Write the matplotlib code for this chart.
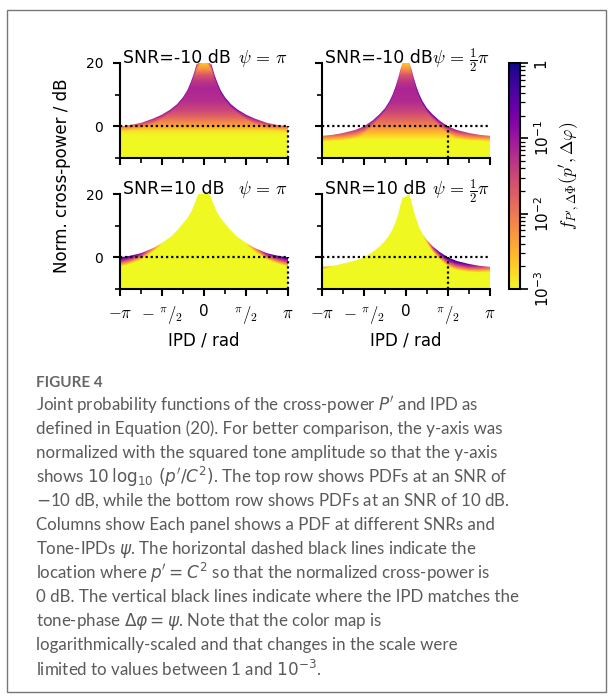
import numpy as np
import matplotlib
matplotlib.use("Agg")
import matplotlib.pyplot as plt
from matplotlib.colors import LogNorm
from matplotlib.patches import Polygon, Rectangle
from matplotlib.ticker import FixedLocator

plt.rcParams['mathtext.fontset'] = 'cm'
plt.rcParams['font.family'] = 'DejaVu Sans'

ipd_nodes = [-1, -0.88, -0.75, -0.6, -0.5, -0.4, -0.32, -0.25, -0.2, -0.16, -0.125, -0.09, -0.066, -0.04,
             0, 0.04, 0.066, 0.09, 0.125, 0.16, 0.2, 0.25, 0.32, 0.4, 0.5, 0.6, 0.75, 0.88, 1]

# upper edge of the PDF support, normalized cross-power in dB
env_tl = [0, 0.4, 1.1, 2.5, 3.7, 5.3, 7.0, 9.2, 11.3, 13.8, 16.3, 19.5, 20, 20,
          20, 20, 20, 19.5, 16.3, 13.8, 11.3, 9.2, 7.0, 5.3, 3.7, 2.5, 1.1, 0.4, 0]
env_tr = [-3.0, -2.7, -2.1, -1.1, 0, 1.8, 3.7, 5.7, 7.8, 10, 12.5, 15.5, 18, 20,
          20, 20, 18, 15.5, 12.5, 10, 7.8, 5.7, 3.7, 1.8, 0, -1.1, -2.1, -2.7, -3.0]
env_bl = [0, 0.5, 1.3, 3.0, 4.6, 6.4, 8.5, 10.7, 12.3, 14, 16, 18.5, 20, 20,
          20, 20, 20, 18.5, 16, 14, 12.3, 10.7, 8.5, 6.4, 4.6, 3.0, 1.3, 0.5, 0]
env_br = [-3.0, -2.7, -2.0, -1.0, 0, 1.6, 3.3, 5.2, 7.0, 8.9, 11.0, 13.8, 16.5, 18.8,
          19.3, 20, 17.6, 14.8, 11.9, 9.3, 7.3, 5.4, 3.4, 1.7, 0, -1.1, -2.1, -2.7, -3.0]

# log10 of the density right at the upper edge
edge_tl = [-2.0, -1.7, -1.4, -1.1, -1.0, -0.9, -0.8, -0.75, -0.7, -0.7, -0.8, -1.1, -2.0, -2.5,
           -2.7, -2.5, -1.8, -0.9, -0.5, -0.45, -0.45, -0.5, -0.6, -0.7, -0.8, -1.0, -1.3, -1.6, -1.9]
edge_tr = [-1.9, -1.7, -1.5, -1.3, -1.1, -0.9, -0.8, -0.7, -0.6, -0.55, -0.6, -0.9, -1.6, -2.4,
           -2.7, -2.4, -1.4, -0.6, -0.4, -0.35, -0.4, -0.45, -0.55, -0.7, -0.9, -1.1, -1.4, -1.6, -1.8]
edge_bl = [-0.15, -0.35, -0.7, -2.0, -3, -3, -3, -3, -3, -3, -3, -3, -3, -3,
           -3, -3, -3, -3, -3, -3, -3, -3, -3, -3, -3, -2.0, -0.7, -0.35, -0.15]
edge_br = [-2.0, -3, -3, -3, -3, -3, -3, -3, -3, -3, -3, -3, -3, -3,
           -3, -3, -3, -3, -3, -3, -3, -2.2, -0.9, -0.3, -0.05, -0.2, -0.5, -1.1, -1.7]

# thickness (dB) of the bright band below the edge
depth_top = [2, 2, 2.5, 3, 3, 3, 3, 3, 3, 3, 3, 3, 3, 3,
             3, 3, 3, 3, 3, 3, 3, 3, 3, 3, 3, 3, 2.5, 2, 2]
depth_bl = [3.0, 2.6, 2.1, 1.2, 1, 1, 1, 1, 1, 1, 1, 1, 1, 1,
            1, 1, 1, 1, 1, 1, 1, 1, 1, 1, 1, 1.2, 2.1, 2.6, 3.0]
depth_br = [0.7, 1, 1, 1, 1, 1, 1, 1, 1, 1, 1, 1, 1, 1,
            1, 1, 1, 1, 1, 1, 1, 1.0, 1.8, 2.4, 3.0, 3.0, 2.6, 2.1, 1.8]

# background log10 density as a function of cross-power level
base_db = [-10, -4.5, -3, -1.5, 0, 1.5, 3, 5, 8, 12, 14, 16, 18, 20]
base_tl = [-3, -3, -3, -2.85, -2.4, -2.1, -1.8, -1.5, -1.25, -1.15, -1.3, -1.6, -2.2, -2.7]
base_tr = [-3, -3, -2.75, -2.45, -2.15, -1.9, -1.7, -1.45, -1.2, -1.15, -1.3, -1.6, -2.2, -2.7]
base_bot = [-3, -3, -3, -3, -3, -3, -3, -3, -3, -3, -3, -3, -3, -3]

snr_titles = ["SNR=-10 dB", "SNR=-10 dB", "SNR=10 dB", "SNR=10 dB"]
psi_titles = [r"$\psi\,=\,\pi$", r"$\psi\,=\,\frac{1}{2}\pi$", r"$\psi\,=\,\pi$", r"$\psi\,=\,\frac{1}{2}\pi$"]
psi_values = [np.pi, np.pi / 2, np.pi, np.pi / 2]

ipd_ticklabels = [r"$-\pi$", r"$-\ {}^{\pi}/_{2}$", "0", r"${}^{\pi}/_{2}$", r"$\pi$"]
cbar_ticks = [1e-3, 1e-2, 1e-1, 1]
cbar_ticklabels = [r"$\mathdefault{10^{-3}}$", r"$\mathdefault{10^{-2}}$", r"$\mathdefault{10^{-1}}$", "1"]

caption_lines = [
    r"Joint probability functions of the cross-power $P'$ and IPD as",
    r"defined in Equation (20). For better comparison, the y-axis was",
    r"normalized with the squared tone amplitude so that the y-axis",
    r"shows $10\,\log_{10}\,(p'/C^2)$. The top row shows PDFs at an SNR of",
    r"$-$10 dB, while the bottom row shows PDFs at an SNR of 10 dB.",
    r"Columns show Each panel shows a PDF at different SNRs and",
    r"Tone-IPDs $\psi$. The horizontal dashed black lines indicate the",
    r"location where $p' = C^2$ so that the normalized cross-power is",
    r"0 dB. The vertical black lines indicate where the IPD matches the",
    r"tone-phase $\Delta\varphi = \psi$. Note that the color map is",
    r"logarithmically-scaled and that changes in the scale were",
    r"limited to values between 1 and $10^{-3}$.",
]

W, H = 614, 700
x = np.linspace(-np.pi, np.pi, 700)
y = np.linspace(-10, 20, 500)
Y = y[:, None]
nodes = np.array(ipd_nodes) * np.pi


def density(env, edge, depth, base):
    e = np.interp(x, nodes, env)
    ed = np.interp(x, nodes, edge)[None, :]
    dp = np.interp(x, nodes, depth)[None, :]
    b = np.interp(y, base_db, base)[:, None]
    ramp = ed + (-3 - ed) * np.clip((e[None, :] - Y) / dp, 0, 1)
    return e, 10 ** np.maximum(b, ramp)


def fig_rect(left, top, right, bottom):
    return [left / W, 1 - bottom / H, (right - left) / W, (bottom - top) / H]


fig = plt.figure(figsize=(W / 100, H / 100), dpi=100)

panels = [
    (fig_rect(120, 63, 288, 158), env_tl, edge_tl, depth_top, base_tl),
    (fig_rect(322, 63, 490, 158), env_tr, edge_tr, depth_top, base_tr),
    (fig_rect(120, 194, 288, 289), env_bl, edge_bl, depth_bl, base_bot),
    (fig_rect(322, 194, 490, 289), env_br, edge_br, depth_br, base_bot),
]

norm = LogNorm(1e-3, 1)
im = None
for i, (rect, env, edge, depth, base) in enumerate(panels):
    ax = fig.add_axes(rect)
    e, d = density(env, edge, depth, base)
    im = ax.imshow(d, extent=(-np.pi, np.pi, -10, 20), origin='lower', aspect='auto',
                   cmap='plasma_r', norm=norm, interpolation='bilinear')
    verts = [(-np.pi, -10)] + list(zip(x, e)) + [(np.pi, -10)]
    patch = Polygon(verts, closed=True, facecolor='none', edgecolor='none')
    ax.add_patch(patch)
    im.set_clip_path(patch)

    ax.axhline(0, color='k', lw=1.6, ls=(0, (1, 1.3)))
    ax.plot([psi_values[i], psi_values[i]], [-10, 0], color='k', lw=1.6, ls=(0, (1, 1.3)), clip_on=False)

    ax.set_xlim(-np.pi, np.pi)
    ax.set_ylim(-10, 20)
    for s in ['top', 'right']:
        ax.spines[s].set_visible(False)
    for s in ['left', 'bottom']:
        ax.spines[s].set_linewidth(1.5)

    ax.set_xticks([-np.pi, -np.pi / 2, 0, np.pi / 2, np.pi])
    ax.xaxis.set_minor_locator(FixedLocator([-3 * np.pi / 4, -np.pi / 4, np.pi / 4, 3 * np.pi / 4]))
    ax.set_yticks([0, 20])
    ax.yaxis.set_minor_locator(FixedLocator([-10, 10]))
    ax.tick_params(which='major', length=5, width=1.5)
    ax.tick_params(which='minor', length=3.5, width=1.2)
    ax.tick_params(axis='x', labelsize=12, pad=6)
    ax.tick_params(axis='y', labelsize=10, pad=7)

    if i >= 2:
        ax.set_xticklabels(ipd_ticklabels)
        for t in ax.get_xticklabels():
            if t.get_text() == "0":
                t.set_fontsize(11)
        ax.set_xlabel("IPD / rad", fontsize=12)
    else:
        ax.set_xticklabels([])
    if i % 2 == 1:
        ax.set_yticklabels([])

    ax.text(0.015, 0.995, snr_titles[i], transform=ax.transAxes, ha='left', va='baseline', fontsize=12.5)
    ax.text(1.0, 0.995, psi_titles[i], transform=ax.transAxes, ha='right', va='baseline', fontsize=13)

fig.text(62 / W, 1 - 176 / H, "Norm. cross-power / dB", rotation=90, fontsize=12,
         ha='center', va='center')

cax = fig.add_axes(fig_rect(509, 63, 520, 289))
cb = fig.colorbar(im, cax=cax)
cb.outline.set_linewidth(1.5)
cb.set_ticks(cbar_ticks, labels=cbar_ticklabels)
cax.tick_params(which='major', length=6, width=1.2, labelsize=11)
cax.tick_params(which='minor', length=3.5, width=0.9)
for t in cax.get_yticklabels():
    t.set_rotation(90)
    t.set_va('center')
cb.set_label(r"$f_{P',\Delta\Phi}(p',\Delta\varphi)$", fontsize=12.5, labelpad=4)

# caption
fig.add_artist(Rectangle((7 / W, 1 - 692 / H), 599 / W, 682 / H, transform=fig.transFigure,
                         facecolor='none', edgecolor='#777777', lw=1.0))
fig.text(36 / W, 1 - 383 / H, "FIGURE 4", fontsize=11, fontweight='bold', color='#666666',
         family='Lato', va='center')
for k, line in enumerate(caption_lines):
    fig.text(36 / W, 1 - (405 + 24 * k) / H, line, fontsize=12.2, color='#5a5a5a',
             family='Lato', va='center', math_fontfamily='dejavusans')

fig.savefig("out.png", dpi=100)
